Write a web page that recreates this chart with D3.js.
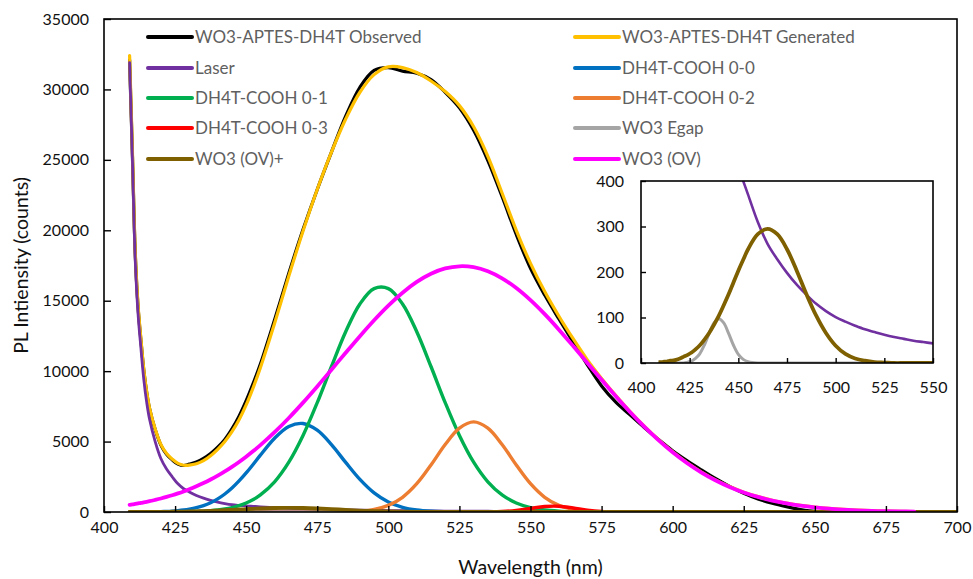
<!DOCTYPE html>
<html>
<head>
<meta charset="utf-8">
<script src="https://cdn.jsdelivr.net/npm/d3@7"></script>
<style>
  html, body { margin: 0; padding: 0; background: #fff; }
  svg { display: block; }
  text { font-family: Lato, "Open Sans", "Noto Sans", sans-serif; }
</style>
</head>
<body>
<svg id="chart" width="973" height="579"></svg>
<script>
// Wavelength grid (nm) shared by all spectra
const wavelengths = [409,410,411,412,413,414,415,416,418,420,422,424,426,428,
  430,432.5,435,437.5,440,442.5,445,447.5,450,452.5,455,
  460,465,470,475,480,485,490,495,500,505,510,515,520,525,530,535,540,545,550,
  555,560,565,570,575,580,585,590,595,600,605,610,615,620,625,630,635,640,645,650,
  655,660,665,670,675,680,685,690,695,700];

// PL intensity (counts) for each spectrum on the grid above
const observed = [32100,25300,18300,14500,12150,10050,8500,7350,5850,4750,4100,3700,3400,3300,
  3400,3550,3800,4150,4600,5150,5900,6800,7900,9150,10500,
  13650,16950,20050,22900,25550,28100,30150,31350,31550,31300,31150,30700,29800,28700,27100,24950,22400,19700,17300,
  15400,13700,12050,10450,8950,7800,6900,6000,5150,4350,3650,3000,2380,1820,1330,930,620,380,180,40,
  10,0,0,0,0,0,0,0,0,0];

const generated = [32400,25550,18400,14600,12250,10100,8550,7400,5900,4800,4150,3750,3450,3320,
  3330,3430,3650,4000,4450,5000,5700,6550,7600,8850,10250,
  13400,16750,19950,22900,25550,27900,29800,31050,31600,31550,31200,30600,29850,28850,27350,25250,22650,20000,17650,
  15650,13900,12300,10800,9480,8260,7130,6090,5130,4270,3505,2845,2280,1805,1410,1090,830,628,468,346,
  253,184,133,95,68,49,35,25,18,13];

const laser = [31900,25000,17800,14000,11600,9400,7800,6600,5000,3800,3050,2500,2000,1650,
  1420,1170,980,830,700,600,520,470,430,400,370,
  310,262,228,198,172,150,130,114,101,91,82,74,68,62,57,53,49,46,43,
  null,null,null,null,null,null,null,null,null,null,null,null,null,null,null,null,null,null,null,null,
  null,null,null,null,null,null,null,null,null,null];

const dh4t00 = [0,0,0,0,0,0,0,0,0,27,42,63,94,138,
  199,305,455,661,932,1277,1701,2204,2773,3394,4035,
  5241,6075,6286,5805,4785,3521,2313,1356,709,331,138,51,17,5,0,0,0,0,0,
  0,0,0,0,0,0,0,0,0,0,0,0,0,0,0,0,0,0,0,0,
  0,0,0,0,0,0,0,0,0,0];

const dh4t01 = [0,0,0,0,0,0,0,0,0,0,0,0,0,0,
  24,38,60,94,142,213,312,450,638,886,1213,
  2146,3539,5433,7763,10330,12800,14770,15858,15858,14770,12800,10330,7763,5433,3539,2146,1213,638,312,
  142,60,22,8,0,0,0,0,0,0,0,0,0,0,0,0,0,0,0,0,
  0,0,0,0,0,0,0,0,0,0];

const dh4t02 = [0,0,0,0,0,0,0,0,0,0,0,0,0,0,
  0,0,0,0,0,0,0,0,0,0,0,
  0,0,0,0,5,18,62,184,471,1046,2008,3335,4789,5952,6400,5952,4789,3335,2008,
  1046,471,184,62,18,5,0,0,0,0,0,0,0,0,0,0,0,0,0,0,
  0,0,0,0,0,0,0,0,0,0];

const dh4t03 = [0,0,0,0,0,0,0,0,0,0,0,0,0,0,
  0,0,0,0,0,0,0,0,0,0,0,
  0,0,0,0,0,0,0,0,0,0,0,0,0,0,0,7,33,112,255,
  392,407,286,136,44,10,2,0,0,0,0,0,0,0,0,0,0,0,0,0,
  0,0,0,0,0,0,0,0,0,0];

const wo3Egap = [0,0,0,0,0,0,0,0,0,0,0,2,4,10,
  19,39,65,88,97,88,65,39,19,8,3,
  0,0,0,0,0,0,0,0,0,0,0,0,0,0,0,0,0,0,0,
  0,0,0,0,0,0,0,0,0,0,0,0,0,0,0,0,0,0,0,0,
  0,0,0,0,0,0,0,0,0,0];

const wo3OVplus = [2,2,2,3,3,4,5,5,7,10,14,18,23,30,
  38,51,66,84,104,127,151,177,203,227,250,
  283,295,283,250,203,151,104,66,38,20,10,5,2,1,0,0,0,0,0,
  0,0,0,0,0,0,0,0,0,0,0,0,0,0,0,0,0,0,0,0,
  0,0,0,0,0,0,0,0,0,0];

const wo3OV = [510,540,575,610,645,685,725,765,860,960,1070,1190,1320,1460,
  1615,1825,2055,2310,2585,2880,3205,3555,3925,4325,4745,
  5665,6675,7765,8915,10105,11305,12485,13615,14655,15570,16335,16915,17290,17445,17380,17090,16590,15900,15040,
  14045,12945,11780,10585,9385,8215,7100,6060,5105,4240,3480,2820,2255,1780,1390,1070,810,610,450,330,
  235,170,120,80,55,40,25,null,null,null];

// Axis tick values
const mainXTicks = [400,425,450,475,500,525,550,575,600,625,650,675,700];
const mainYTicks = [0,5000,10000,15000,20000,25000,30000,35000];
const insetXTicks = [400,425,450,475,500,525,550];
const insetYTicks = [0,100,200,300,400];

// Series in drawing order (later ones are painted on top)
const series = [
  { name: "WO3-APTES-DH4T Observed",  values: observed,  color: "#000000", width: 3.2 },
  { name: "WO3-APTES-DH4T Generated", values: generated, color: "#FFC000", width: 3.2 },
  { name: "Laser",                    values: laser,     color: "#7030A0", width: 2.8 },
  { name: "DH4T-COOH 0-0",            values: dh4t00,    color: "#0070C0", width: 3.4 },
  { name: "DH4T-COOH 0-1",            values: dh4t01,    color: "#00B050", width: 3.4 },
  { name: "DH4T-COOH 0-2",            values: dh4t02,    color: "#ED7D31", width: 3.4 },
  { name: "DH4T-COOH 0-3",            values: dh4t03,    color: "#FF0000", width: 3.4 },
  { name: "WO3 Egap",                 values: wo3Egap,   color: "#A5A5A5", width: 3.4 },
  { name: "WO3 (OV)+",                values: wo3OVplus, color: "#7F6000", width: 3.8 },
  { name: "WO3 (OV)",                 values: wo3OV,     color: "#FF00FF", width: 3.8 }
];
const insetNames = ["Laser", "WO3 Egap", "WO3 (OV)+"];

const svg = d3.select("#chart");
const W = 973, H = 579;
svg.append("rect").attr("width", W).attr("height", H).attr("fill", "#fff");

function pointsOf(s) {
  return wavelengths.map((w, i) => [w, s.values[i]]);
}

// ---------- main plot ----------
const x = d3.scaleLinear().domain([400, 700]).range([104, 957]);
const y = d3.scaleLinear().domain([0, 35000]).range([512, 19]);

const defs = svg.append("defs");
defs.append("clipPath").attr("id", "clipMain").append("rect")
  .attr("x", x.range()[0]).attr("y", y.range()[1])
  .attr("width", x.range()[1] - x.range()[0]).attr("height", y.range()[0] - y.range()[1]);

const line = d3.line()
  .defined(d => d[1] != null)
  .x(d => x(d[0])).y(d => y(d[1]))
  .curve(d3.curveCatmullRom.alpha(0.5));

const gLines = svg.append("g").attr("clip-path", "url(#clipMain)");
series.forEach(s => {
  gLines.append("path")
    .datum(pointsOf(s))
    .attr("d", line)
    .attr("fill", "none")
    .attr("stroke", s.color)
    .attr("stroke-width", s.width)
    .attr("stroke-linejoin", "round")
    .attr("stroke-linecap", "round");
});

// axes (ticks point inward)
const gx = svg.append("g")
  .attr("transform", `translate(0,${y(0)})`)
  .call(d3.axisBottom(x).tickValues(mainXTicks).tickSizeInner(-6).tickSizeOuter(0)
    .tickPadding(10).tickFormat(d3.format("d")));
const gy = svg.append("g")
  .attr("transform", `translate(${x(400)},0)`)
  .call(d3.axisLeft(y).tickValues(mainYTicks).tickSizeInner(-7).tickSizeOuter(0)
    .tickPadding(15).tickFormat(d3.format("d")));
[gx, gy].forEach(g => {
  g.select(".domain").remove();
  g.attr("font-size", 16).attr("font-family", "Lato, 'Open Sans', sans-serif").attr("color", "#111");
  g.selectAll(".tick line").attr("stroke", "#000").attr("stroke-width", 1.4);
});

// plot frame
svg.append("rect")
  .attr("x", x(400)).attr("y", y(35000))
  .attr("width", x(700) - x(400)).attr("height", y(0) - y(35000))
  .attr("fill", "none").attr("stroke", "#000").attr("stroke-width", 1.6);

// axis titles
svg.append("text")
  .attr("transform", `translate(28,${(y(0) + y(35000)) / 2}) rotate(-90)`)
  .attr("text-anchor", "middle")
  .attr("font-size", 19.5).attr("fill", "#111")
  .text("PL Intiensity (counts)");
svg.append("text")
  .attr("x", (x(400) + x(700)) / 2).attr("y", 574)
  .attr("text-anchor", "middle")
  .attr("font-size", 19.5).attr("fill", "#111")
  .text("Wavelength (nm)");

// ---------- legend ----------
const legendCols = [148, 575];
const legendRows = [37, 68, 98, 128, 159];
const gLeg = svg.append("g");
series.forEach((s, i) => {
  const cx = legendCols[i % 2];
  const cy = legendRows[Math.floor(i / 2)];
  gLeg.append("line")
    .attr("x1", cx).attr("x2", cx + 44).attr("y1", cy).attr("y2", cy)
    .attr("stroke", s.color).attr("stroke-width", 4).attr("stroke-linecap", "round");
  gLeg.append("text")
    .attr("x", cx + 47).attr("y", cy).attr("dy", "0.36em")
    .attr("font-size", 17).attr("fill", "#606060")
    .text(s.name);
});

// ---------- inset ----------
const xi = d3.scaleLinear().domain([400, 550]).range([641, 933]);
const yi = d3.scaleLinear().domain([0, 400]).range([363, 181]);

svg.append("rect")
  .attr("x", xi(400)).attr("y", yi(400))
  .attr("width", xi(550) - xi(400)).attr("height", yi(0) - yi(400))
  .attr("fill", "#fff");

defs.append("clipPath").attr("id", "clipInset").append("rect")
  .attr("x", xi(400)).attr("y", yi(400))
  .attr("width", xi(550) - xi(400)).attr("height", yi(0) - yi(400));

const lineInset = d3.line()
  .defined(d => d[1] != null)
  .x(d => xi(d[0])).y(d => yi(d[1]))
  .curve(d3.curveCatmullRom.alpha(0.5));

const gInset = svg.append("g").attr("clip-path", "url(#clipInset)");
series.filter(s => insetNames.includes(s.name)).forEach(s => {
  gInset.append("path")
    .datum(pointsOf(s))
    .attr("d", lineInset)
    .attr("fill", "none")
    .attr("stroke", s.color)
    .attr("stroke-width", s.name === "Laser" ? 2.6 : (s.name === "WO3 Egap" ? 3 : 3.8))
    .attr("stroke-linejoin", "round");
});

const gxi = svg.append("g")
  .attr("transform", `translate(0,${yi(0)})`)
  .call(d3.axisBottom(xi).tickValues(insetXTicks).tickSizeInner(-5).tickSizeOuter(0)
    .tickPadding(19).tickFormat(d3.format("d")));
const gyi = svg.append("g")
  .attr("transform", `translate(${xi(400)},0)`)
  .call(d3.axisLeft(yi).tickValues(insetYTicks).tickSizeInner(-5).tickSizeOuter(0)
    .tickPadding(17).tickFormat(d3.format("d")));
[gxi, gyi].forEach(g => {
  g.select(".domain").remove();
  g.attr("font-size", 16).attr("font-family", "Lato, 'Open Sans', sans-serif").attr("color", "#111");
  g.selectAll(".tick line").attr("stroke", "#000").attr("stroke-width", 1.4);
});

svg.append("rect")
  .attr("x", xi(400)).attr("y", yi(400))
  .attr("width", xi(550) - xi(400)).attr("height", yi(0) - yi(400))
  .attr("fill", "none").attr("stroke", "#000").attr("stroke-width", 1.6);
</script>
</body>
</html>
